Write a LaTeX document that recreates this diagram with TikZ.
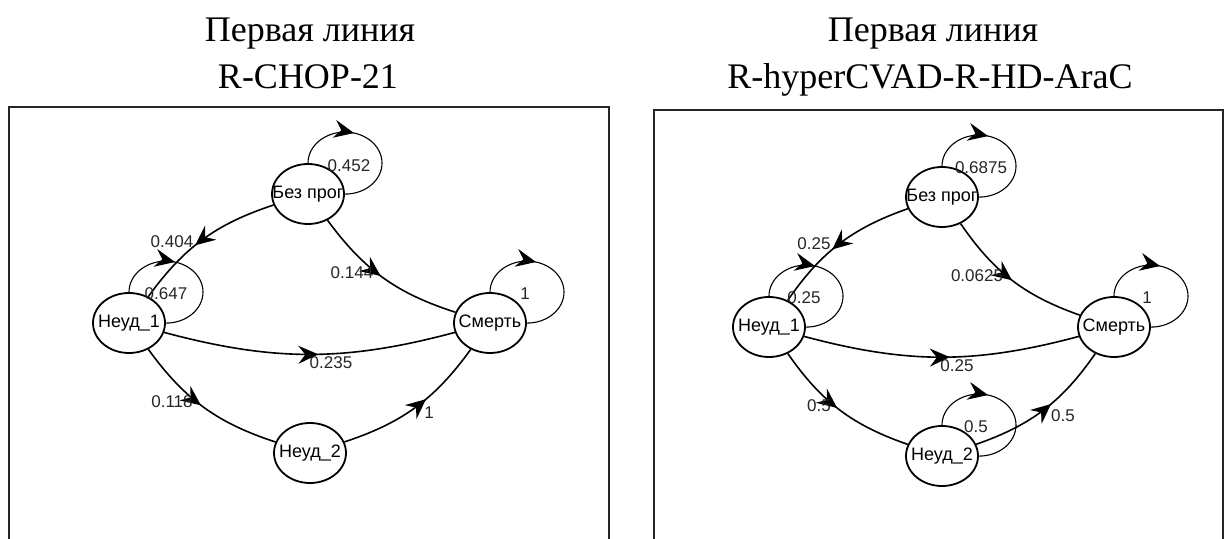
\documentclass[tikz,border=0pt]{standalone}
\usepackage{fontspec}
\setmainfont{Liberation Serif}
\setsansfont{Liberation Sans}
\usetikzlibrary{arrows.meta,shapes.geometric,decorations.markings}

\newcommand{\stname}[1]{\makebox[0pt]{#1}}

\tikzset{
  state/.style={draw,ellipse,line width=0.9pt,minimum width=36pt,minimum height=30pt,
    inner sep=0pt,font=\sffamily\fontsize{9}{10}\selectfont},
  prob/.style={font=\sffamily\fontsize{8.5}{10}\selectfont,text=black!85,inner sep=0pt},
  title/.style={font=\fontsize{18}{21}\selectfont,anchor=base,inner sep=0pt},
  frame/.style={line width=1pt,black!85},
  trans/.style={line width=0.8pt,bend right=18,postaction={decorate},
    decoration={markings,mark=at position #1 with {\arrow{Stealth[length=10pt,width=9pt,inset=3.5pt]}}}},
  trans/.default=0.56,
  selfloop/.style={line width=0.55pt,postaction={decorate},
    decoration={markings,mark=at position 0.39 with {\arrow{Stealth[length=10pt,width=9pt,inset=3.5pt]}}}},
}

\begin{document}
\begin{tikzpicture}[x=0.5pt,y=-0.5pt]
  \useasboundingbox (0,0) rectangle (1228,539);

  % titles
  \node[title] (t1L) at (310,42) {Первая линия};
  \node[title] (t2L) at (308,89) {R-CHOP-21};
  \node[title] (t1R) at (933,42) {Первая линия};
  \node[title] (t2R) at (930,89) {R-hyperCVAD-R-HD-AraC};

  % frames
  \draw[frame] (9,539) |- (609,107) -- (609,539);
  \draw[frame] (654,539) |- (1223,110) -- (1223,539);

  % left chain
  \node[state] (bpL) at (308,194) {\stname{Без прог}};
  \node[state] (n1L) at (129,323) {\stname{Неуд\_1}};
  \node[state] (smL) at (490,323) {\stname{Смерть}};
  \node[state] (n2L) at (310,453) {\stname{Неуд\_2}};

  \draw[trans] (bpL) to (n1L);
  \draw[trans=0.48] (bpL) to (smL);
  \draw[trans=0.53,bend right=15] (n1L) to (smL);
  \draw[trans=0.48] (n1L) to (n2L);
  \draw[trans=0.58] (n2L) to (smL);

  \draw[selfloop] (bpL.north) arc[start angle=180,end angle=450,x radius=37,y radius=31];
  \draw[selfloop] (n1L.north) arc[start angle=180,end angle=450,x radius=37,y radius=31];
  \draw[selfloop] (smL.north) arc[start angle=180,end angle=450,x radius=37,y radius=31];

  \node[prob] (p1L) at (349,166) {0.452};
  \node[prob] (p2L) at (172,242) {0.404};
  \node[prob] (p3L) at (166,294) {0.647};
  \node[prob] (p4L) at (352,273) {0.144};
  \node[prob] (p5L) at (331,363) {0.235};
  \node[prob] (p6L) at (172,402) {0.118};
  \node[prob] (p7L) at (429,413) {1};
  \node[prob] (p8L) at (525,294) {1};

  % right chain
  \node[state] (bpR) at (942,197) {\stname{Без прог}};
  \node[state] (n1R) at (769,327) {\stname{Неуд\_1}};
  \node[state] (smR) at (1114,327) {\stname{Смерть}};
  \node[state] (n2R) at (942,456) {\stname{Неуд\_2}};

  \draw[trans] (bpR) to (n1R);
  \draw[trans=0.5] (bpR) to (smR);
  \draw[trans=0.53,bend right=15] (n1R) to (smR);
  \draw[trans=0.48] (n1R) to (n2R);
  \draw[trans] (n2R) to (smR);

  \draw[selfloop] (bpR.north) arc[start angle=180,end angle=450,x radius=37,y radius=31];
  \draw[selfloop] (n1R.north) arc[start angle=180,end angle=450,x radius=37,y radius=31];
  \draw[selfloop] (smR.north) arc[start angle=180,end angle=450,x radius=37,y radius=31];
  \draw[selfloop] (n2R.north) arc[start angle=180,end angle=450,x radius=37,y radius=31];

  \node[prob] (p1R) at (981,168) {0.6875};
  \node[prob] (p2R) at (814,244) {0.25};
  \node[prob] (p3R) at (804,298) {0.25};
  \node[prob] (p4R) at (977,276) {0.0625};
  \node[prob] (p5R) at (957,366) {0.25};
  \node[prob] (p6R) at (819,406) {0.5};
  \node[prob] (p7R) at (976,427) {0.5};
  \node[prob] (p8R) at (1063,416) {0.5};
  \node[prob] (p9R) at (1147,298) {1};
\end{tikzpicture}
\end{document}
